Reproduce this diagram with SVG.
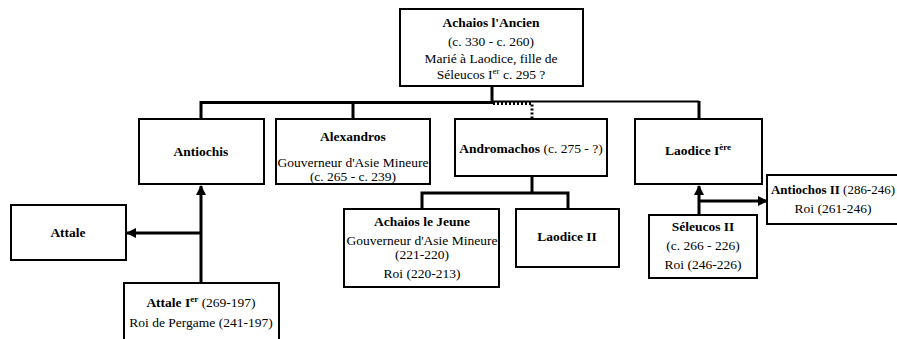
<svg xmlns="http://www.w3.org/2000/svg" width="897" height="339" viewBox="0 0 897 339">
<style>
.box{fill:#fff;stroke:#000;stroke-width:2}
text{font-family:'Liberation Serif','DejaVu Serif','Times New Roman',serif;font-size:13.5px;fill:#000;text-anchor:middle}
.b{font-weight:bold}
.sup{font-size:9px;baseline-shift:super}
.c{fill:none;stroke:#000;stroke-width:3}
</style>
<defs>
<marker id="arr" viewBox="0 0 10 10" refX="9" refY="5" markerWidth="10" markerHeight="10" markerUnits="userSpaceOnUse" orient="auto">
<path d="M0,0 L10,5 L0,10 z" fill="#000"/>
</marker>
</defs>
<rect width="897" height="339" fill="#fff"/>
<g id="connectors">
<path class="c" d="M492,86 V102.5"/>
<path class="c" d="M201,119 V102.5 H493"/>
<path class="c" d="M353,119 V102.5"/>
<path d="M492,101.5 H699" fill="none" stroke="#000" stroke-width="2"/>
<path d="M493,103.5 H532 V119" fill="none" stroke="#000" stroke-width="3" stroke-dasharray="2,2"/>
<path class="c" d="M699,101 V119"/>
<path class="c" d="M532,176 V193 M422,209 V193 H568 V209"/>
<path class="c" d="M201,283 V186" marker-end="url(#arr)"/>
<path class="c" d="M201,233 H127" marker-end="url(#arr)"/>
<path class="c" d="M699,215 V186" marker-end="url(#arr)"/>
<path class="c" d="M699,201 H767" marker-end="url(#arr)"/>
</g>
<g id="achaios-ancien">
<rect class="box" x="400" y="9" width="183" height="77"/>
<text x="491" y="27" class="b">Achaios l'Ancien</text>
<text x="491" y="46">(c. 330 - c. 260)</text>
<text x="491" y="63">Marié à Laodice, fille de</text>
<text x="491" y="79">Séleucos I<tspan class="sup">er</tspan> c. 295 ?</text>
</g>
<g id="antiochis">
<rect class="box" x="139" y="119" width="125" height="65"/>
<text x="201" y="156" class="b">Antiochis</text>
</g>
<g id="alexandros">
<rect class="box" x="276" y="119" width="154" height="65"/>
<text x="353" y="141" class="b">Alexandros</text>
<text x="353" y="167">Gouverneur d'Asie Mineure</text>
<text x="353" y="181">(c. 265 - c. 239)</text>
</g>
<g id="andromachos">
<rect class="box" x="455" y="119" width="152" height="57"/>
<text x="531" y="153"><tspan class="b">Andromachos</tspan> (c. 275 - ?)</text>
</g>
<g id="laodice1">
<rect class="box" x="635" y="119" width="127" height="65"/>
<text x="698" y="155" class="b">Laodice I<tspan class="sup">ère</tspan></text>
</g>
<g id="attale">
<rect class="box" x="11" y="205" width="115" height="55"/>
<text x="68" y="237" class="b">Attale</text>
</g>
<g id="achaios-jeune">
<rect class="box" x="344" y="209" width="155" height="78"/>
<text x="422" y="226" class="b">Achaios le Jeune</text>
<text x="422" y="245">Gouverneur d'Asie Mineure</text>
<text x="422" y="259">(221-220)</text>
<text x="422" y="278">Roi (220-213)</text>
</g>
<g id="laodice2">
<rect class="box" x="516" y="209" width="103" height="58"/>
<text x="567" y="241" class="b">Laodice II</text>
</g>
<g id="seleucos2">
<rect class="box" x="649" y="215" width="108" height="63"/>
<text x="703" y="231" class="b">Séleucos II</text>
<text x="703" y="250">(c. 266 - 226)</text>
<text x="703" y="269">Roi (246-226)</text>
</g>
<g id="antiochos2">
<rect class="box" x="767" y="175" width="135" height="49"/>
<text x="771" y="194" style="text-anchor:start" textLength="124" lengthAdjust="spacingAndGlyphs"><tspan class="b">Antiochos II</tspan> (286-246)</text>
<text x="833" y="213">Roi (261-246)</text>
</g>
<g id="attale1">
<rect class="box" x="124" y="283" width="155" height="70"/>
<text x="201" y="307"><tspan class="b">Attale I<tspan class="sup">er</tspan></tspan> (269-197)</text>
<text x="201" y="327">Roi de Pergame (241-197)</text>
</g>
</svg>
